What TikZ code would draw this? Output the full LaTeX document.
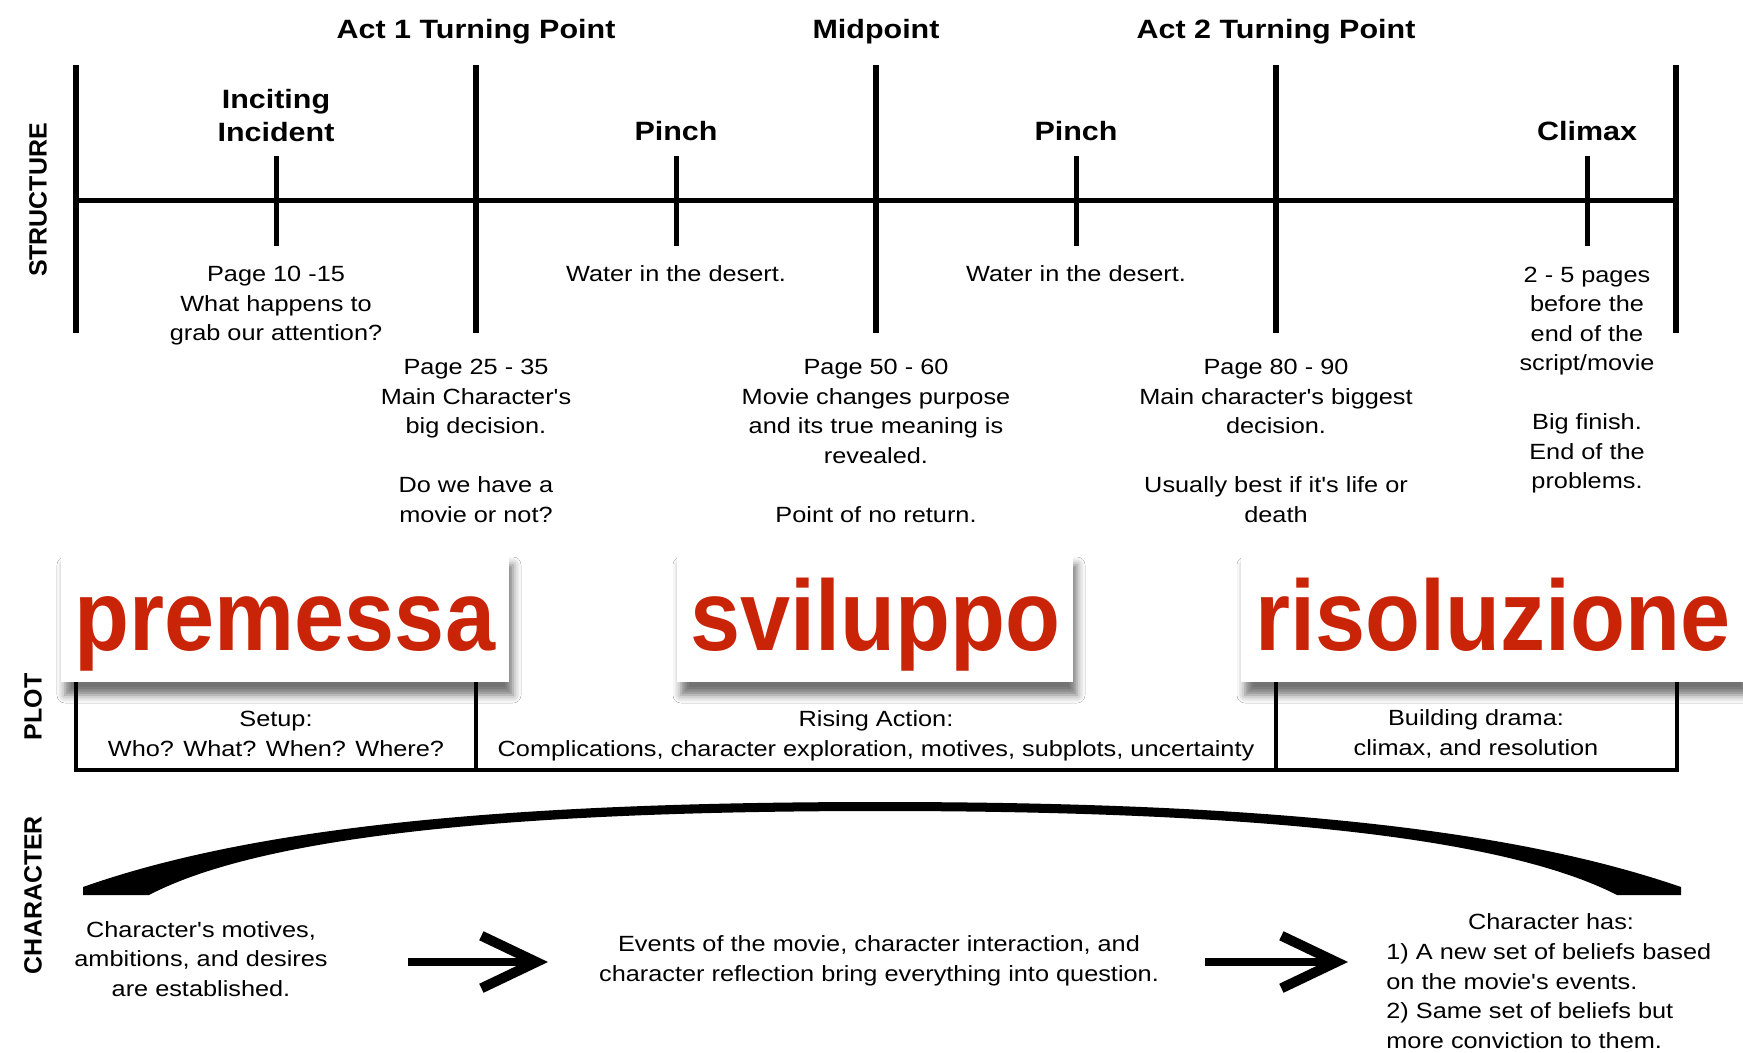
\documentclass[tikz,border=0pt]{standalone}
\usepackage{fontspec}
\setmainfont{Liberation Sans}
\newfontfamily\bodyfont[FakeStretch=1.15]{Liberation Sans}
\newfontfamily\sidefont{Liberation Sans}
\newfontfamily\headfont[FakeStretch=0.9]{Liberation Sans}
\usetikzlibrary{arrows.meta,positioning,calc,shadows.blur}
\definecolor{tagred}{RGB}{201,36,8}
\tikzset{
  bar/.style={line width=1.2mm, line cap=butt},
  axis/.style={line width=1mm},
  tickline/.style={line width=1mm},
  plotline/.style={line width=0.9mm},
  note/.style={ % small explanatory text
    font=\bodyfont\fontsize{12.52pt}{16.79pt}\selectfont,
    align=center, inner sep=0pt
  },
  milestone/.style={ % bold labels of the structure line
    font=\bodyfont\bfseries\fontsize{15.08pt}{18.78pt}\selectfont,
    align=center, inner sep=0pt
  },
  sidelabel/.style={
    font=\sidefont\bfseries\fontsize{14.2pt}{17pt}\selectfont,
    rotate=90, inner sep=0pt
  },
  tagbox/.style={ % white card with the red Italian word
    fill=white, minimum height=26mm, inner sep=0pt,
    blur shadow={shadow xshift=0.8mm, shadow yshift=-2.6mm,
      shadow blur radius=1.6mm, shadow opacity=55},
    font=\headfont\bfseries\fontsize{56.9pt}{60pt}\selectfont,
    text=tagred
  },
  bigarrow/.style={
    line width=1.6mm,
    -{Straight Barb[length=11mm,width=10.5mm,line width=2mm]}
  }
}

\begin{document}
\begin{tikzpicture}[x=0.2mm, y=-0.2mm]
  \fill[white] (0,0) rectangle (1743,1052);
  \useasboundingbox (0,0) rectangle (1743,1052);

  % structure
  \foreach \i/\x in {0/76,1/476,2/876,3/1276,4/1676} {
    \coordinate (bt\i) at (\x,65);
    \coordinate (bb\i) at (\x,333);
    \draw[bar] (bt\i) -- (bb\i);
  }
  \coordinate (ax0) at (76,200);
  \coordinate (ax1) at (1676,200);
  \draw[axis] (ax0) -- (ax1);
  \foreach \i/\x in {1/276,2/676,3/1076,4/1587} {
    \coordinate (tt\i) at (\x,156);
    \coordinate (tb\i) at (\x,246);
    \draw[tickline] (tt\i) -- (tb\i);
  }

  \node[milestone] (act1) at (476,32) {Act 1 Turning Point};
  \node[milestone] (mid) at (876,32) {Midpoint};
  \node[milestone] (act2) at (1276,32) {Act 2 Turning Point};
  \node[milestone] (inc) at (276,116) {Inciting\\Incident};
  \node[milestone] (pinchA) at (676,131) {Pinch};
  \node[milestone] (pinchB) at (1076,131) {Pinch};
  \node[milestone] (climax) at (1587,131) {Climax};

  \node[note] (incTxt) at (276,306) {Page 10 -15\\What happens to\\grab our attention?};
  \node[note] (pinchATxt) at (676,274) {Water in the desert.};
  \node[note] (pinchBTxt) at (1076,274) {Water in the desert.};
  \node[note] (climaxTxt) at (1587,380) {2 - 5 pages\\before the\\end of the\\script/movie\\[5.9mm]Big finish.\\End of the\\problems.};
  \node[note] (act1Txt) at (476,441) {Page 25 - 35\\Main Character's\\big decision.\\[5.9mm]Do we have a\\movie or not?};
  \node[note] (midTxt) at (876,441) {Page 50 - 60\\Movie changes purpose\\and its true meaning is\\revealed.\\[5.9mm]Point of no return.};
  \node[note] (act2Txt) at (1276,441) {Page 80 - 90\\Main character's biggest\\decision.\\[5.9mm]Usually best if it's life or\\death};

  \node[sidelabel] (structLbl) at (38,200) {STRUCTURE};
  \node[sidelabel] (plotLbl) at (33,707) {PLOT};
  \node[sidelabel] (charLbl) at (33,895) {CHARACTER};

  % plot
  \foreach \i/\x in {0/76,1/476,2/1276,3/1677} {
    \coordinate (pt\i) at (\x,680);
    \coordinate (pb\i) at (\x,770);
  }
  \draw[plotline] (pt0) -- (pb0) -- (pb3) -- (pt3);
  \draw[plotline] (pt1) -- (pb1) (pt2) -- (pb2);
  \node[note] (setupTxt) at (276,734) {Setup:\\Who? What? When? Where?};
  \node[note] (risingTxt) at (876,736) {Rising Action:\\Complications, character exploration, motives, subplots, uncertainty};
  \node[note] (buildTxt) at (1476,734) {Building drama:\\climax, and resolution};

  % cards
  \node[tagbox, minimum width=89.6mm] (premessa) at (285,617) {\raisebox{-6.6mm}[0pt][0pt]{premessa}};
  \node[tagbox, minimum width=79.2mm] (sviluppo) at (875,617) {\raisebox{-6.6mm}[0pt][0pt]{sviluppo}};
  \node[tagbox, minimum width=100.8mm] (risoluzione) at (1493,617) {\raisebox{-6.6mm}[0pt][0pt]{risoluzione}};

  % character
  \fill (83,887) .. controls (250,828) and (500,802) .. (880,802)
    .. controls (1260,802) and (1510,828) .. (1681,887) -- (1681,895) -- (1617,895)
    .. controls (1500,835) and (1240,811) .. (880,811)
    .. controls (520,811) and (264,835) .. (149,895) -- (83,895) -- cycle;

  \node[note] (motivesTxt) at (201,959) {Character's motives,\\ambitions, and desires\\are established.};
  \node[note] (eventsTxt) at (879,961) {Events of the movie, character interaction, and\\character reflection bring everything into question.};
  \node[note] (hasTxt) at (1551,922) {Character has:};
  \node[note, align=left, anchor=west] (beliefsTxt) at (1386,996) {1) A new set of beliefs based\\on the movie's events.\\2) Same set of beliefs but\\more conviction to them.};

  \coordinate (arrA1) at (408,962);
  \coordinate (arrA2) at (548,962);
  \coordinate (arrB1) at (1205,962);
  \coordinate (arrB2) at (1348,962);
  \draw[bigarrow] (arrA1) -- (arrA2);
  \draw[bigarrow] (arrB1) -- (arrB2);
\end{tikzpicture}
\end{document}
